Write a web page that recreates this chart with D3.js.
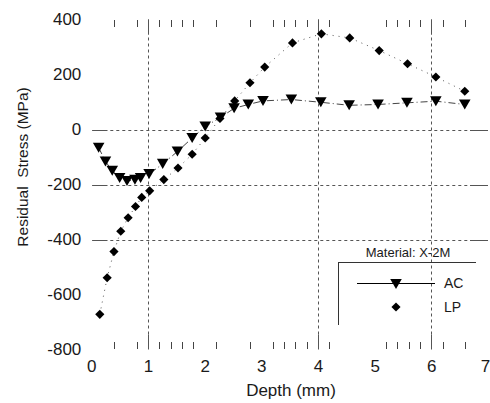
<!DOCTYPE html>
<html>
<head>
<meta charset="utf-8">
<script src="https://cdn.jsdelivr.net/npm/d3@7"></script>
<style>
  body { margin: 0; background: #fff; }
  text { font-family: "Liberation Sans", Arial, sans-serif; fill: #1a1a1a; }
</style>
</head>
<body>
<div id="chart"></div>
<script>
const w = 490;
const h = 403;

// AC series (depth mm, residual stress MPa)
const acDepth = [0.13, 0.25, 0.37, 0.50, 0.63, 0.77, 0.87, 1.02, 1.26, 1.52, 1.78, 2.01,
                 2.28, 2.52, 2.77, 3.03, 3.53, 4.05, 4.55, 5.06, 5.57, 6.08, 6.59];
const acStress = [-66, -116, -150, -176, -187, -183, -176, -162, -125, -80, -31, 11,
                  44, 77, 91, 104, 109, 99, 88, 91, 97, 103, 91];

// LP series
const lpDepth = [0.15, 0.28, 0.40, 0.52, 0.65, 0.78, 0.89, 1.03, 1.28, 1.53, 1.78, 2.01,
                 2.27, 2.53, 2.80, 3.06, 3.55, 4.06, 4.56, 5.08, 5.58, 6.08, 6.59];
const lpStress = [-672, -539, -444, -370, -321, -280, -247, -223, -182, -140, -90, -31,
                  40, 104, 170, 227, 315, 348, 333, 287, 239, 191, 139];

const xTicks = [0, 1, 2, 3, 4, 5, 6, 7];
const yTicks = [400, 200, 0, -200, -400, -600, -800];
const xGrid = [1, 4, 6];
const yGrid = [0, -200, -400];
const minorTicks = [0.4, 0.8, 1.2, 1.4, 1.6, 1.8, 2.2, 2.8, 3.2, 3.4, 3.6, 3.8, 4.2,
                    5.2, 5.4, 5.6, 5.8, 6.2, 6.6];

const svg = d3.select("#chart")
    .append("svg")
    .attr("width", w)
    .attr("height", h);

const x = d3.scaleLinear().domain([0, 7]).range([91.3, 488]);
const y = d3.scaleLinear().domain([-800, 400]).range([349.5, 19.5]);

const gridColor = "#555";
const stub = 15;
const labelFmt = d => String(d);   // plain hyphen minus, as in the figure

// horizontal grid lines: solid ends, dashed middle
yGrid.forEach(function(v) {
    let yy = Math.round(y(v)) + 0.5;
    svg.append("line")
        .attr("x1", x(0) + 1).attr("x2", x(7))
        .attr("y1", yy).attr("y2", yy)
        .attr("stroke", gridColor).attr("stroke-dasharray", "3,3");
    [[x(0) + 1, x(0) + 1 + stub], [x(7) - stub - 3, x(7)]].forEach(function(s) {
        svg.append("line")
            .attr("x1", s[0]).attr("x2", s[1])
            .attr("y1", yy).attr("y2", yy)
            .attr("stroke", gridColor);
    });
});

// vertical grid lines
xGrid.forEach(function(v) {
    let xx = Math.round(x(v)) + 0.5;
    svg.append("line")
        .attr("x1", xx).attr("x2", xx)
        .attr("y1", y(400)).attr("y2", y(-800))
        .attr("stroke", gridColor).attr("stroke-dasharray", "3,3");
    [[y(400), y(400) + stub], [y(-800) - stub, y(-800)]].forEach(function(s) {
        svg.append("line")
            .attr("x1", xx).attr("x2", xx)
            .attr("y1", s[0]).attr("y2", s[1])
            .attr("stroke", gridColor);
    });
});

// minor ticks top and bottom
svg.selectAll(".minorTop")
    .data(minorTicks)
    .enter()
    .append("line")
    .attr("x1", d => Math.round(x(d)) + 0.5)
    .attr("x2", d => Math.round(x(d)) + 0.5)
    .attr("y1", y(400) + 0.5)
    .attr("y2", y(400) + 7.5)
    .attr("stroke", "#444");

svg.selectAll(".minorBot")
    .data(minorTicks)
    .enter()
    .append("line")
    .attr("x1", d => Math.round(x(d)) + 0.5)
    .attr("x2", d => Math.round(x(d)) + 0.5)
    .attr("y1", y(-800) - 7.5)
    .attr("y2", y(-800) - 0.5)
    .attr("stroke", "#444");

// axes labels
const yAxis = svg.append("g")
    .attr("transform", "translate(" + x(0) + ",0)")
    .call(d3.axisLeft(y).tickValues(yTicks).tickSize(0).tickPadding(10).tickFormat(labelFmt));
yAxis.select(".domain").remove();
yAxis.selectAll("text").style("font-size", "17px").attr("fill", "#1a1a1a");

const xAxis = svg.append("g")
    .attr("transform", "translate(0," + y(-800) + ")")
    .call(d3.axisBottom(x).tickValues(xTicks).tickSize(0).tickPadding(10).tickFormat(labelFmt));
xAxis.select(".domain").remove();
xAxis.selectAll("text").style("font-size", "17px").attr("fill", "#1a1a1a");
// last label sits at the very edge of the page; nudge it in
xAxis.selectAll("text").filter(d => d === 7).attr("dx", "-3");

svg.append("text")
    .attr("x", 291)
    .attr("y", 396)
    .attr("text-anchor", "middle")
    .style("font-size", "17px")
    .text("Depth (mm)");

svg.append("text")
    .attr("transform", "translate(28,167) rotate(-90)")
    .attr("text-anchor", "middle")
    .style("font-size", "15.5px")
    .style("white-space", "pre")
    .attr("xml:space", "preserve")
    .text("Residual  Stress (MPa)");

// symbols
const triDown = {
    draw: function(ctx, size) {
        let s = Math.sqrt(size * 4 / Math.sqrt(3));
        let hh = s * Math.sqrt(3) / 2;
        ctx.moveTo(-s / 2, -hh / 2);
        ctx.lineTo(s / 2, -hh / 2);
        ctx.lineTo(0, hh / 2);
        ctx.closePath();
    }
};
const diamond = {
    draw: function(ctx, size) {
        let r = Math.sqrt(size / 2);
        ctx.moveTo(0, -r);
        ctx.lineTo(r, 0);
        ctx.lineTo(0, r);
        ctx.lineTo(-r, 0);
        ctx.closePath();
    }
};

const acData = acDepth.map((d, i) => ({ d: d, s: acStress[i] }));
const lpData = lpDepth.map((d, i) => ({ d: d, s: lpStress[i] }));

const line = d3.line().x(p => x(p.d)).y(p => y(p.s));

svg.append("path")
    .datum(acData)
    .attr("d", line)
    .attr("fill", "none")
    .attr("stroke", "#444")
    .attr("stroke-width", 1)
    .attr("stroke-dasharray", "7,3,1,3");

svg.append("path")
    .datum(lpData)
    .attr("d", line)
    .attr("fill", "none")
    .attr("stroke", "#555")
    .attr("stroke-width", 1)
    .attr("stroke-dasharray", "1,5");

svg.selectAll(".ac")
    .data(acData)
    .enter()
    .append("path")
    .attr("transform", p => "translate(" + x(p.d) + "," + y(p.s) + ")")
    .attr("d", d3.symbol().type(triDown).size(58))
    .attr("fill", "#000");

svg.selectAll(".lp")
    .data(lpData)
    .enter()
    .append("path")
    .attr("transform", p => "translate(" + x(p.d) + "," + y(p.s) + ")")
    .attr("d", d3.symbol().type(diamond).size(42))
    .attr("fill", "#000");

// legend
const lg = svg.append("g");
lg.append("text")
    .attr("x", 408)
    .attr("y", 257)
    .attr("text-anchor", "middle")
    .style("font-size", "13px")
    .text("Material: X-2M");
lg.append("line")
    .attr("x1", 338).attr("x2", 476)
    .attr("y1", 262.5).attr("y2", 262.5)
    .attr("stroke", "#333");
lg.append("line")
    .attr("x1", 338.5).attr("x2", 338.5)
    .attr("y1", 262).attr("y2", 325)
    .attr("stroke", "#333");
lg.append("line")
    .attr("x1", 357).attr("x2", 435)
    .attr("y1", 283.5).attr("y2", 283.5)
    .attr("stroke", "#000");
lg.append("path")
    .attr("transform", "translate(396,284)")
    .attr("d", d3.symbol().type(triDown).size(58))
    .attr("fill", "#000");
lg.append("path")
    .attr("transform", "translate(396,307)")
    .attr("d", d3.symbol().type(diamond).size(42))
    .attr("fill", "#000");
lg.append("text")
    .attr("x", 444)
    .attr("y", 288)
    .style("font-size", "14px")
    .text("AC");
lg.append("text")
    .attr("x", 444)
    .attr("y", 312)
    .style("font-size", "14px")
    .text("LP");
</script>
</body>
</html>
